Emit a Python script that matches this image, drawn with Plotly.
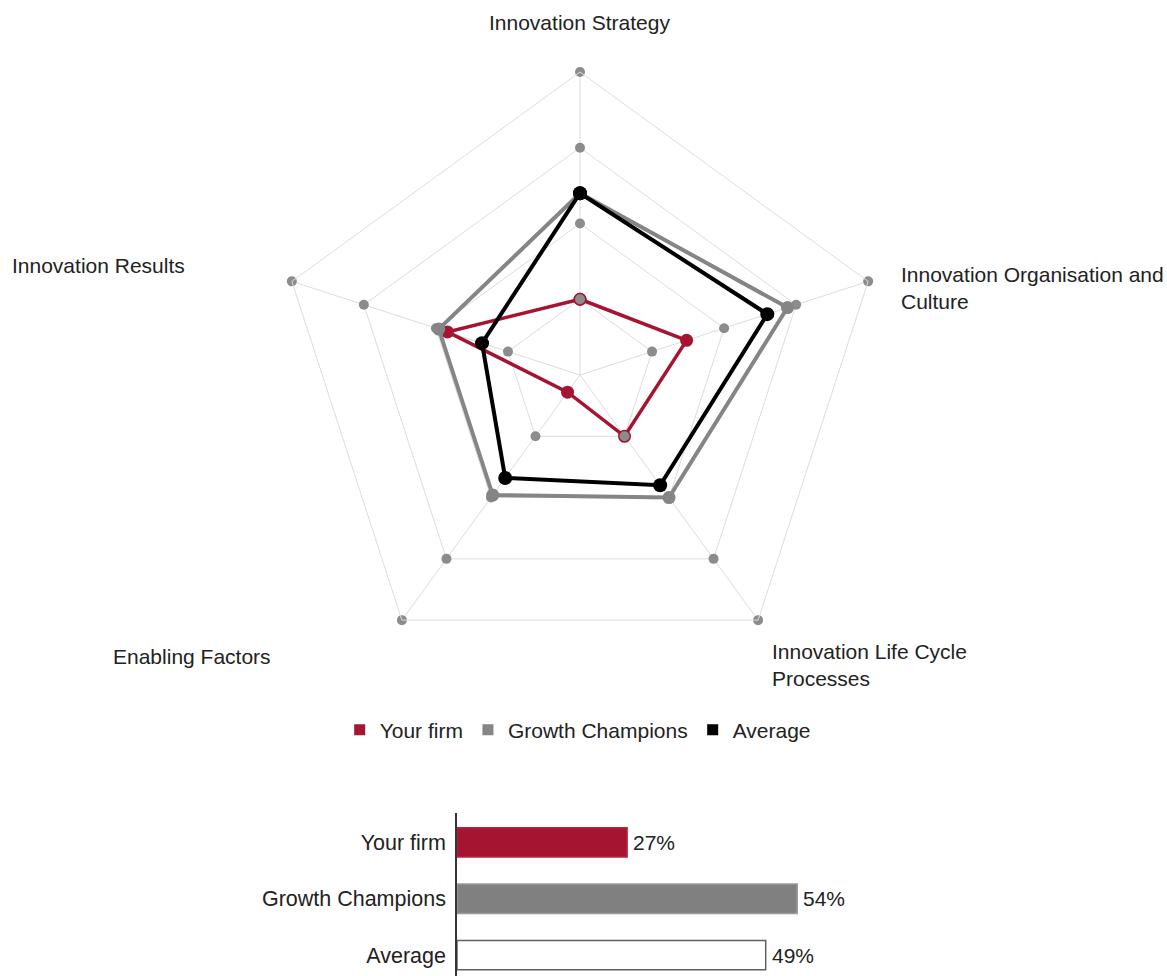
import plotly.graph_objects as go

# Radar dimensions and scores (0-100 scale)
categories = [
    "Innovation Strategy",
    "Innovation Organisation and Culture",
    "Innovation Life Cycle Processes",
    "Enabling Factors",
    "Innovation Results",
]
your_firm = [25, 37, 25, 7, 46]
growth_champions = [60, 72, 50, 49, 49]
average = [60, 65, 45, 42, 34]
grid_levels = [25, 50, 75, 100]

# Overall index bars
bar_labels = ["Your firm", "Growth Champions", "Average"]
bar_values = [27, 54, 49]

RED = "#a51430"
GREY = "#858585"
BLACK = "#000000"
GRID = "#dcdcdc"
TEXT = "#222222"
FONT = "Liberation Sans, Arial, sans-serif"


def closed(values):
    return list(values) + [values[0]]


theta_closed = closed(categories)

fig = go.Figure()

# Series polygons
fig.add_trace(go.Scatterpolar(
    r=closed(your_firm), theta=theta_closed, mode="lines+markers",
    line=dict(color=RED, width=3.5), marker=dict(color=RED, size=13),
    showlegend=False, hoverinfo="skip",
))

# Grey dots marking every ring vertex
grid_r = [lvl for cat in categories for lvl in grid_levels]
grid_t = [cat for cat in categories for lvl in grid_levels]
fig.add_trace(go.Scatterpolar(
    r=grid_r, theta=grid_t, mode="markers",
    marker=dict(color="#8c8c8c", size=10),
    showlegend=False, hoverinfo="skip",
))
fig.add_trace(go.Scatterpolar(
    r=[0], theta=[categories[0]], mode="markers",
    marker=dict(color="#ee5550", size=10),
    showlegend=False, hoverinfo="skip",
))

fig.add_trace(go.Scatterpolar(
    r=closed(growth_champions), theta=theta_closed, mode="lines+markers",
    line=dict(color=GREY, width=4), marker=dict(color=GREY, size=13),
    showlegend=False, hoverinfo="skip",
))
fig.add_trace(go.Scatterpolar(
    r=closed(average), theta=theta_closed, mode="lines+markers",
    line=dict(color=BLACK, width=4), marker=dict(color=BLACK, size=14),
    showlegend=False, hoverinfo="skip",
))

# Square legend entries
for name, col in [("Your firm", RED), ("Growth Champions", GREY), ("Average", BLACK)]:
    fig.add_trace(go.Scatterpolar(
        r=[None], theta=[categories[0]], mode="markers", name=name,
        marker=dict(color=col, size=11, symbol="square"),
    ))

# Overall index bars
fig.add_trace(go.Bar(
    x=bar_values, y=bar_labels, orientation="h",
    marker=dict(
        color=[RED, "#808080", "#ffffff"],
        line=dict(color=["#c02040", "#9a9a9a", "#606060"], width=1.5),
    ),
    width=0.52,
    cliponaxis=False, showlegend=False, hoverinfo="skip",
    xaxis="x", yaxis="y",
))

# Percentage labels next to each bar
for label, value in zip(bar_labels, bar_values):
    fig.add_annotation(
        text=f"{value}%", x=value, y=label, xref="x", yref="y",
        xanchor="left", yanchor="middle", xshift=4, showarrow=False,
        font=dict(size=21, color=TEXT, family=FONT),
    )

W, H = 1167, 976
cx, cy, R = 580, 375, 303

fig.update_layout(
    width=W, height=H,
    margin=dict(l=0, r=0, t=0, b=0),
    paper_bgcolor="white", plot_bgcolor="white",
    font=dict(family=FONT, size=21, color=TEXT),
    polar=dict(
        domain=dict(x=[(cx - R) / W, (cx + R) / W], y=[1 - (cy + R) / H, 1 - (cy - R) / H]),
        bgcolor="white",
        gridshape="linear",
        radialaxis=dict(
            range=[0, 100], tickvals=grid_levels[:-1], showticklabels=False,
            ticks="", showline=False, gridcolor=GRID, gridwidth=1,
        ),
        angularaxis=dict(
            direction="clockwise", rotation=90, showticklabels=False, ticks="",
            showline=True, linecolor=GRID, linewidth=1, gridcolor=GRID, gridwidth=1,
        ),
    ),
    legend=dict(
        orientation="h", x=0.495, xanchor="center", y=1 - 730 / H, yanchor="middle",
        font=dict(size=21, color=TEXT, family=FONT), itemwidth=30,
        bgcolor="rgba(0,0,0,0)",
    ),
    xaxis=dict(
        domain=[457 / W, 1.0], range=[0, (W - 457) / 6.3],
        showgrid=False, zeroline=False, showticklabels=False, ticks="", showline=False,
    ),
    yaxis=dict(
        domain=[0, 1 - 813 / H], range=[2.373, -0.524],
        showgrid=False, zeroline=False, ticks="", showline=True,
        linecolor="#333333", linewidth=1.5,
        tickfont=dict(size=21.5, color=TEXT, family=FONT), ticklabelstandoff=5,
    ),
)

# Axis labels around the radar
labels = [
    ("Innovation Strategy", 579, 22, "center"),
    ("Innovation Organisation and<br>Culture", 899, 288, "left"),
    ("Innovation Life Cycle<br>Processes", 770, 665, "left"),
    ("Enabling Factors", 111, 656, "left"),
    ("Innovation Results", 10, 266, "left"),
]
for text, x, y, anchor in labels:
    fig.add_annotation(
        text=text, x=x / W, y=1 - y / H, xref="paper", yref="paper",
        xanchor=anchor, yanchor="middle", align="left", showarrow=False,
        font=dict(size=21, color=TEXT, family=FONT),
    )

fig.write_html("out.html")
